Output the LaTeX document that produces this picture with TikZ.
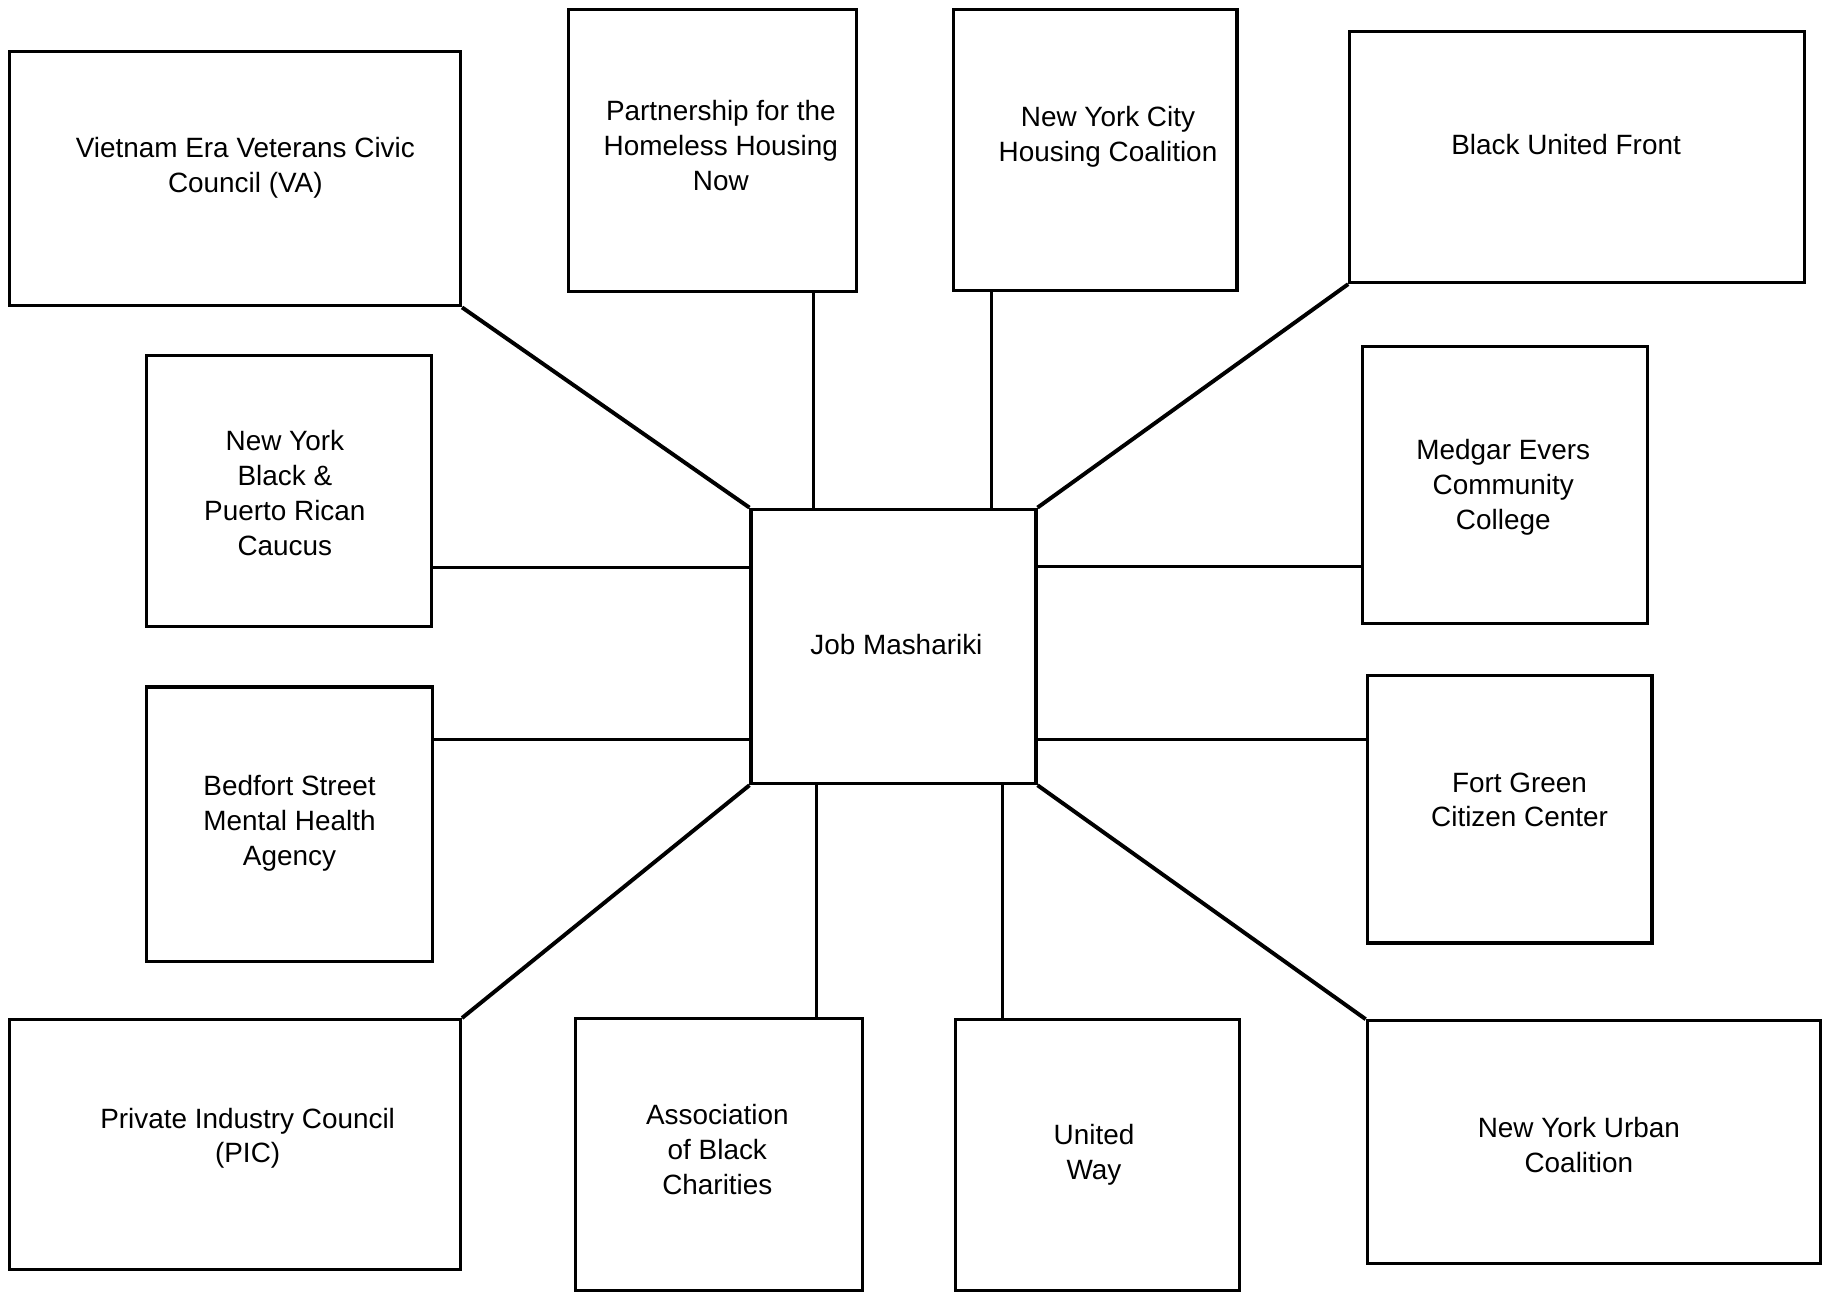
\documentclass[tikz,border=0pt]{standalone}
\usepackage{fontspec}
\setmainfont{Liberation Sans}
\usetikzlibrary{fit}
\begin{document}
\begin{tikzpicture}[x=0.5pt,y=-0.5pt,
  box/.style={draw, line width=1.4pt, inner sep=0pt},
  lbl/.style={align=center, font=\fontsize{12}{15}\selectfont, inner sep=0pt},
  link/.style={line width=1.2pt},
  diag/.style={line width=1.7pt}]
\useasboundingbox (0,0) rectangle (1568,1112);
% boxes
\node[box, fit={(8,44) (396,263)}] (va) {};
\node[box, fit={(489,8) (737,251)}] (part) {};
\node[box, fit={(820,8) (1064,250)}] (nyc) {};
\node[box, fit={(1161,27) (1552,243)}] (buf) {};
\node[box, fit={(126,306) (371,539)}] (cau) {};
\node[box, fit={(1172,298) (1417,536)}] (med) {};
\node[box, fit={(646,438) (891,674)}] (job) {};
\node[box, fit={(126,591) (372,827)}] (bed) {};
\node[box, fit={(1176,581) (1421,811)}] (fort) {};
\node[box, fit={(8,877) (396,1092)}] (pic) {};
\node[box, fit={(495,876) (742,1110)}] (abc) {};
\node[box, fit={(822,877) (1066,1110)}] (uw) {};
\node[box, fit={(1176,878) (1566,1087)}] (nyu) {};
% labels
\node[lbl] (vat) at (211,144) {Vietnam Era Veterans Civic\\Council (VA)};
\node[lbl] (partt) at (620,125) {Partnership for the\\Homeless Housing\\Now};
\node[lbl] (nyct) at (953,118) {New York City\\Housing Coalition};
\node[lbl] (buft) at (1347,124) {Black United Front};
\node[lbl] (caut) at (245,424) {New York\\Black \&\\Puerto Rican\\Caucus};
\node[lbl] (medt) at (1293,419) {Medgar Evers\\Community\\College};
\node[lbl] (jobt) at (771,554) {Job Mashariki};
\node[lbl] (bedt) at (249,708) {Bedfort Street\\Mental Health\\Agency};
\node[lbl] (fortt) at (1307,688) {Fort Green\\Citizen Center};
\node[lbl] (pict) at (213,979) {Private Industry Council\\(PIC)};
\node[lbl] (abct) at (617,989) {Association\\of Black\\Charities};
\node[lbl] (uwt) at (941,993) {United\\Way};
\node[lbl] (nyut) at (1358,985) {New York Urban\\Coalition};
% guide coordinates
\coordinate (v1) at (700,0);
\coordinate (v2) at (853,0);
\coordinate (v3) at (702,0);
\coordinate (v4) at (862,0);
\coordinate (h1) at (0,488);
\coordinate (h2) at (0,487);
\coordinate (h3) at (0,636);
\coordinate (h4) at (0,636);
% connectors
\draw[diag] (va.south east) -- (job.north west);
\draw[diag] (buf.south west) -- (job.north east);
\draw[diag] (pic.north east) -- (job.south west);
\draw[diag] (nyu.north west) -- (job.south east);
\draw[link] (part.south -| v1) -- (job.north -| v1);
\draw[link] (nyc.south -| v2) -- (job.north -| v2);
\draw[link] (job.south -| v3) -- (abc.north -| v3);
\draw[link] (job.south -| v4) -- (uw.north -| v4);
\draw[link] (cau.east |- h1) -- (job.west |- h1);
\draw[link] (job.east |- h2) -- (med.west |- h2);
\draw[link] (bed.east |- h3) -- (job.west |- h3);
\draw[link] (job.east |- h4) -- (fort.west |- h4);
\end{tikzpicture}
\end{document}
